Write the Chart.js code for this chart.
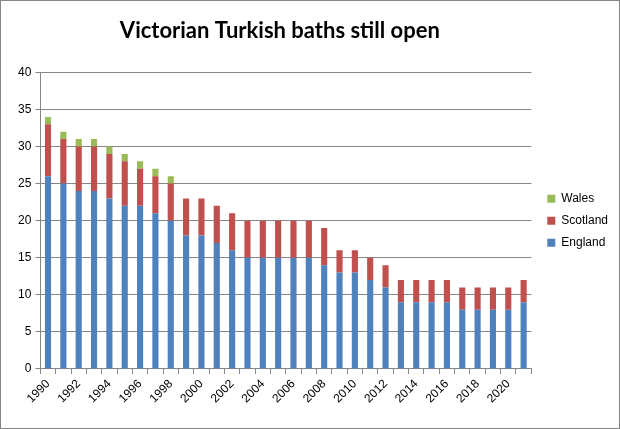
<!DOCTYPE html>
<html>
<head>
<meta charset="utf-8">
<script src="https://cdn.jsdelivr.net/npm/chart.js@4"></script>
<style>
    html, body { margin: 0; padding: 0; background: #fff; }
    #wrap { width: 620px; height: 429px; box-sizing: border-box; border: 1px solid #868686; position: relative; }
    canvas { display: block; }
</style>
</head>
<body>
<div id="wrap"><canvas id="myChart" width="618" height="427"></canvas></div>
<script>
const years = [
    '1990', '1991', '1992', '1993', '1994', '1995', '1996', '1997',
    '1998', '1999', '2000', '2001', '2002', '2003', '2004', '2005',
    '2006', '2007', '2008', '2009', '2010', '2011', '2012', '2013',
    '2014', '2015', '2016', '2017', '2018', '2019', '2020', '2021',
];

const england = [26, 25, 24, 24, 23, 22, 22, 21, 20, 18, 18, 17, 16, 15, 15, 15,
    15, 15, 14, 13, 13, 12, 11, 9, 9, 9, 9, 8, 8, 8, 8, 9];
const scotland = [7, 6, 6, 6, 6, 6, 5, 5, 5, 5, 5, 5, 5, 5, 5, 5,
    5, 5, 5, 3, 3, 3, 3, 3, 3, 3, 3, 3, 3, 3, 3, 3];
const wales = [1, 1, 1, 1, 1, 1, 1, 1, 1, 0, 0, 0, 0, 0, 0, 0,
    0, 0, 0, 0, 0, 0, 0, 0, 0, 0, 0, 0, 0, 0, 0, 0];

const axisGrey = '#868686';

// push the legend a little away from the plot, nudge the title left
const legendGap = {
    id: 'legendGap',
    beforeInit(chart) {
        const fit = chart.legend.fit;
        chart.legend.fit = function () {
            fit.call(this);
            this.width += 6;
        };
    },
    afterLayout(chart) {
        chart.legend.left += 6;
        chart.titleBlock.left -= 6;
        chart.titleBlock.right -= 6;
    }
};

const data = {
    labels: years,
    datasets: [{
        label: 'England',
        data: england,
        backgroundColor: '#4F81BD',
    }, {
        label: 'Scotland',
        data: scotland,
        backgroundColor: '#C0504D',
    }, {
        label: 'Wales',
        data: wales,
        backgroundColor: '#9BBB59',
    }]
};

const config = {
    type: 'bar',
    data: data,
    options: {
        responsive: false,
        animation: false,
        layout: {
            padding: { left: 13, right: 1, bottom: 19 }
        },
        datasets: {
            bar: {
                barPercentage: 0.4,
                categoryPercentage: 1.0,
            }
        },
        plugins: {
            title: {
                display: true,
                fullSize: false,
                text: 'Victorian Turkish baths still open',
                color: '#000',
                font: { family: 'Lato', size: 22, weight: 'bold' },
                padding: { top: 17, bottom: 28 }
            },
            legend: {
                position: 'right',
                fullSize: false,
                reverse: true,
                labels: {
                    boxWidth: 8,
                    boxHeight: 8,
                    padding: 10,
                    color: '#000',
                    font: { family: 'Liberation Sans', size: 12 }
                }
            },
            tooltip: { enabled: false }
        },
        scales: {
            x: {
                stacked: true,
                grid: {
                    drawOnChartArea: false,
                    color: axisGrey,
                    tickLength: 5,
                },
                border: { color: axisGrey },
                ticks: {
                    autoSkip: false,
                    maxRotation: 45,
                    minRotation: 45,
                    color: '#000',
                    font: { family: 'Liberation Sans', size: 12 },
                    callback: function (value, index) {
                        return index % 2 === 0 ? this.getLabelForValue(value) : '';
                    }
                }
            },
            y: {
                stacked: true,
                min: 0,
                max: 40,
                grid: {
                    color: axisGrey,
                    tickLength: 5,
                },
                border: { color: axisGrey },
                ticks: {
                    stepSize: 5,
                    color: '#000',
                    padding: 4,
                    font: { family: 'Liberation Sans', size: 12 }
                }
            }
        }
    },
    plugins: [legendGap]
};

const myChart = new Chart(document.getElementById('myChart'), config);
</script>
</body>
</html>
